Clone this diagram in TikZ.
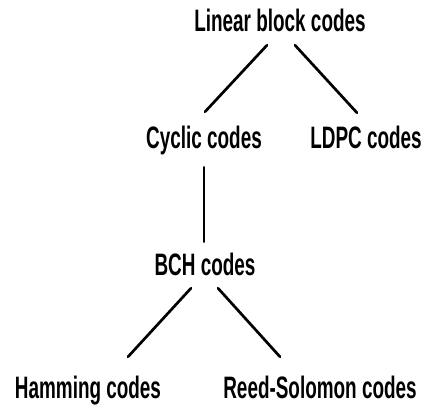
\documentclass[tikz,border=0pt]{standalone}
\usepackage{fontspec}
\setmainfont{Liberation Sans}[FakeStretch=0.61]
\begin{document}
\begin{tikzpicture}[x=1pt, y=-1pt,
  label/.style={anchor=base, inner sep=0pt, text height=19pt, text depth=5pt,
    font=\fontsize{31}{34}\selectfont\bfseries},
  branch/.style={line width=2.7pt, line cap=round}]
  \useasboundingbox (0,0) rectangle (422,406);

  % class names
  \node[label] (lin)  at (280,32)  {Linear block codes};
  \node[label] (cyc)  at (204,149) {Cyclic codes};
  \node[label] (ldpc) at (366,149) {LDPC codes};
  \node[label] (bch)  at (205,275) {BCH codes};
  \node[label] (ham)  at (88,398)  {Hamming codes};
  \node[label] (rs)   at (320,398) {Reed-Solomon codes};

  % hierarchy lines
  \draw[branch] ([shift={(-13,8)}]lin.south) -- ([shift={(1,-18)}]cyc.north);
  \draw[branch] ([shift={(15,8)}]lin.south) -- ([shift={(-9,-17)}]ldpc.north);
  \draw[branch] ([shift={(0,13)}]cyc.south) -- ([shift={(-1,-14)}]bch.north);
  \draw[branch] ([shift={(-14,8)}]bch.south) -- ([shift={(40,-22)}]ham.north);
  \draw[branch] ([shift={(13,8)}]bch.south) -- ([shift={(-40,-22)}]rs.north);
\end{tikzpicture}
\end{document}
